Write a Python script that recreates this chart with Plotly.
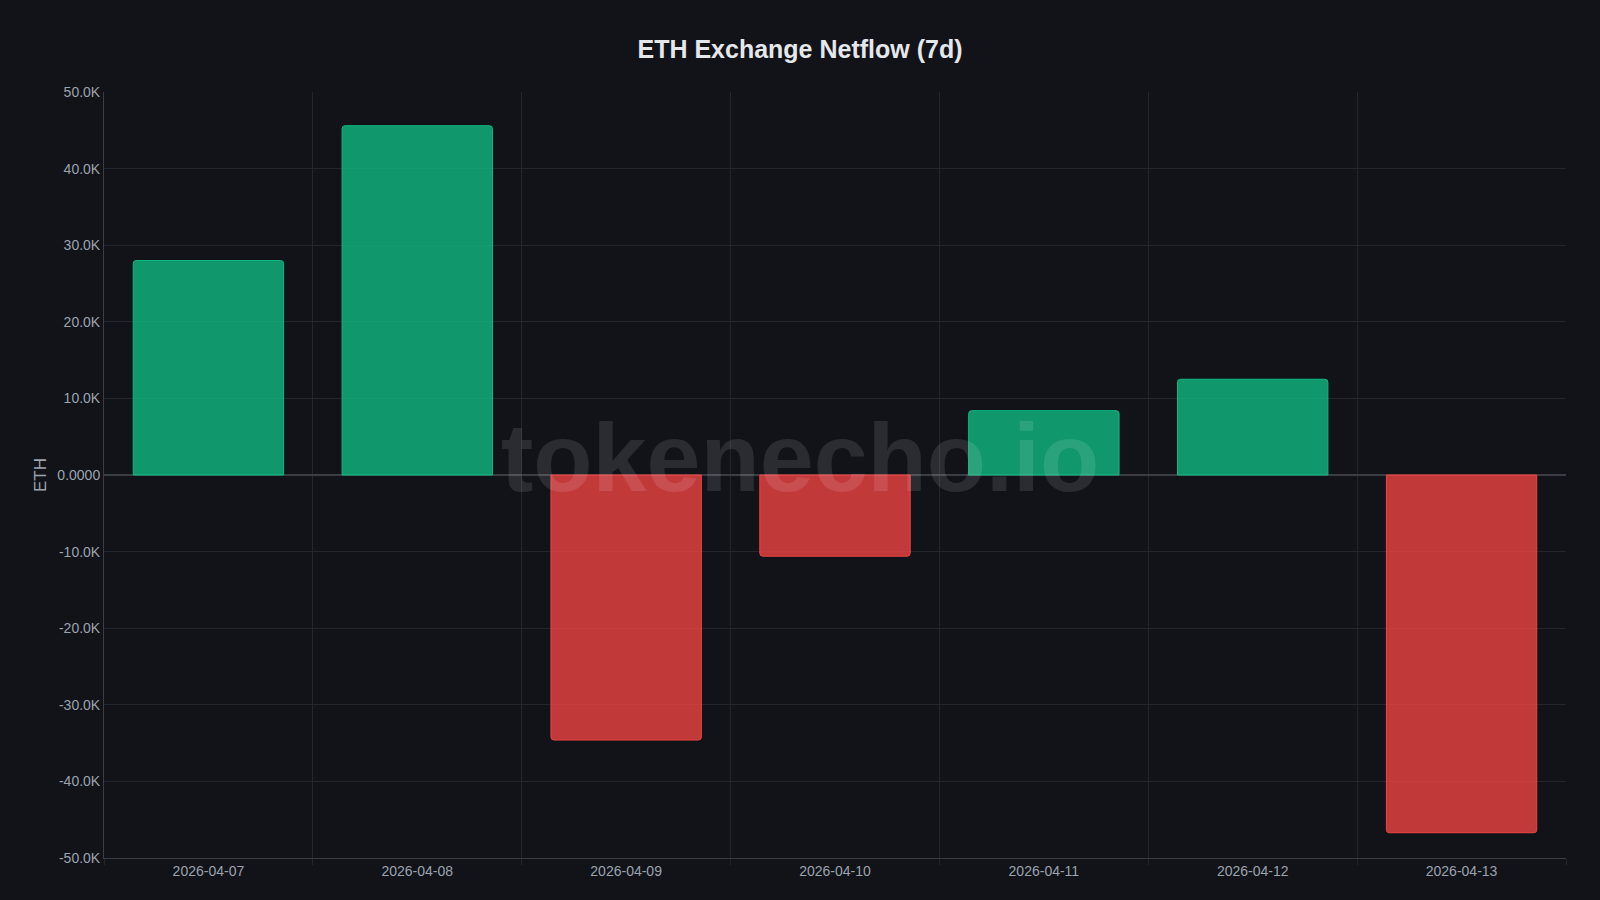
import plotly.graph_objects as go

dates = ["2026-04-07", "2026-04-08", "2026-04-09", "2026-04-10",
         "2026-04-11", "2026-04-12", "2026-04-13"]
netflow = [28000, 45600, -34600, -10600, 8400, 12500, -46700]

tick_vals = [50000, 40000, 30000, 20000, 10000, 0, -10000, -20000, -30000, -40000, -50000]
tick_text = ["50.0K", "40.0K", "30.0K", "20.0K", "10.0K", "0.0000",
             "-10.0K", "-20.0K", "-30.0K", "-40.0K", "-50.0K"]

colors = ["rgba(16,185,129,0.8)" if v >= 0 else "rgba(239,68,68,0.8)" for v in netflow]
edges = ["#10b981" if v >= 0 else "#ef4444" for v in netflow]

fig = go.Figure(go.Bar(
    x=dates, y=netflow,
    marker=dict(color=colors, line=dict(color=edges, width=1), cornerradius=3),
    width=0.72,
    hovertemplate="%{x}<br>%{y:,.0f} ETH<extra></extra>",
))

fig.update_layout(
    width=1600, height=900,
    paper_bgcolor="#111318", plot_bgcolor="#111318",
    font=dict(family="Liberation Sans, Arial, sans-serif", color="#9ca3af", size=14),
    title=dict(text="<b>ETH Exchange Netflow (7d)</b>", x=0.5, xanchor="center",
               y=0.955, font=dict(size=25, color="#e5e7eb")),
    margin=dict(l=104, r=34, t=92, b=42),
    showlegend=False,
    xaxis=dict(type="category", tickson="boundaries", showgrid=True,
               gridcolor="#23262d", ticks="outside", tickcolor="#23262d",
               ticklen=6, showline=True, linecolor="#3a3d44"),
    yaxis=dict(range=[-50000, 50000], tickvals=tick_vals, ticktext=tick_text,
               gridcolor="#23262d", zeroline=True, zerolinecolor="#3a3d44",
               showline=True, linecolor="#3a3d44", title=dict(text="ETH", standoff=6)),
    annotations=[dict(text="<b>tokenecho.io</b>", x=0.476, y=0.523, xref="paper",
                      yref="paper", showarrow=False,
                      font=dict(family="Liberation Sans, Arial, sans-serif",
                                size=97, color="rgba(255,255,255,0.11)"))],
)

fig.write_html("out.html", config={"displayModeBar": False},
               post_script="document.body.style.margin='0';")
